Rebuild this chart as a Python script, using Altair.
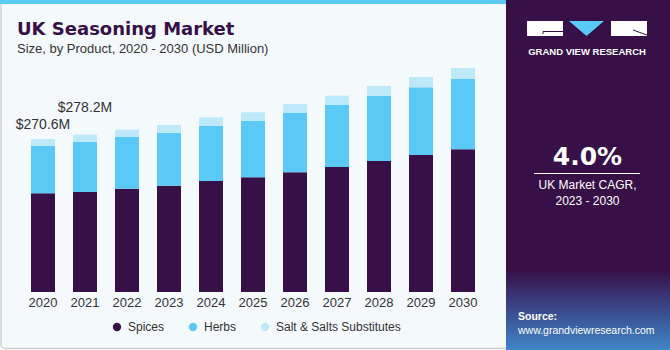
import altair as alt
import pandas as pd

years = [str(y) for y in range(2020, 2031)]
spices = [174.6, 176.9, 182.7, 188.0, 196.3, 202.9, 211.7, 221.1, 231.7, 242.3, 252.4]
herbs = [83.7, 89.0, 91.4, 93.7, 97.8, 99.6, 104.9, 109.7, 115.5, 119.7, 124.3]
salt = [12.3, 12.3, 12.9, 13.6, 14.9, 15.4, 15.9, 16.4, 17.2, 18.2, 19.5]
segments = ["Spices", "Herbs", "Salt & Salts Substitutes"]
colors = ["#371047", "#5BC9F5", "#BDE9FA"]
ann_years = ["2020", "2021"]
ann_labels = ["$270.6M", "$278.2M"]

DARK = "#371047"
FONT = "Liberation Sans"

rows = []
for i, y in enumerate(years):
    for j, (seg, vals) in enumerate(zip(segments, [spices, herbs, salt])):
        rows.append({"year": y, "segment": seg, "value": vals[i], "order": j})
df = pd.DataFrame(rows)

totals = {y: round(spices[i] + herbs[i] + salt[i], 1) for i, y in enumerate(years)}
ann = pd.DataFrame({"year": ann_years, "label": ann_labels,
                    "total": [totals[y] for y in ann_years]})

one = alt.Data(values=[{"a": 1}])

xscale = alt.Scale(domain=years, range=[22, 484], paddingInner=0.4286, paddingOuter=0.2143)
yscale = alt.Scale(domain=[0, 516.4], nice=False, zero=True)

# backgrounds
left_bg = alt.Chart(one).mark_rect(fill="#F4F9FC", stroke="#CFCFCF", strokeWidth=1.5,
                                   cornerRadius=4).encode(
    x=alt.value(1), x2=alt.value(520), y=alt.value(1), y2=alt.value(348.5))
top_stripe = alt.Chart(one).mark_rect(fill="#5BC9F5").encode(
    x=alt.value(0), x2=alt.value(506), y=alt.value(0), y2=alt.value(4))
right_bg = alt.Chart(one).mark_rect(fill=DARK).encode(
    x=alt.value(506), x2=alt.value(670), y=alt.value(0), y2=alt.value(350))
grad = alt.Chart(one).mark_rect(fill=alt.Gradient(
    gradient="linear",
    stops=[alt.GradientStop(color=DARK, offset=0),
           alt.GradientStop(color="#3A3878", offset=0.35),
           alt.GradientStop(color="#3F86C8", offset=1)],
    x1=0, x2=0, y1=0, y2=1)).encode(
    x=alt.value(506), x2=alt.value(670), y=alt.value(270), y2=alt.value(350))

bars = alt.Chart(df).mark_bar().encode(
    x=alt.X("year:N", scale=xscale, sort=years,
            axis=alt.Axis(title=None, domain=False, ticks=False, labelPadding=4,
                          labelFontSize=13, labelColor="#333333", labelFont=FONT,
                          labelAngle=0, zindex=1)),
    y=alt.Y("value:Q", stack="zero", scale=yscale, axis=None),
    color=alt.Color("segment:N", scale=alt.Scale(domain=segments, range=colors),
                    legend=alt.Legend(title=None, orient="none", legendX=111, legendY=321,
                                      direction="horizontal", symbolType="circle",
                                      symbolSize=70, symbolStrokeWidth=0,
                                      labelFontSize=12, labelFont=FONT,
                                      labelColor="#333333", columnPadding=22,
                                      labelOffset=5)),
    order=alt.Order("order:Q", sort="ascending"),
)

ann_a = alt.Chart(ann[ann.year == "2020"]).mark_text(
    fontSize=14, font=FONT, color="#333333", baseline="alphabetic", align="center", dy=-10
).encode(x=alt.X("year:N", scale=xscale), y=alt.Y("total:Q", scale=yscale), text="label:N")
ann_b = alt.Chart(ann[ann.year == "2021"]).mark_text(
    fontSize=14, font=FONT, color="#333333", baseline="alphabetic", align="center", dy=-23
).encode(x=alt.X("year:N", scale=xscale), y=alt.Y("total:Q", scale=yscale), text="label:N")

title = alt.Chart(one).mark_text(
    text="UK Seasoning Market", font="DejaVu Sans", fontWeight="bold", fontSize=18,
    color=DARK, align="left", baseline="alphabetic").encode(x=alt.value(17), y=alt.value(34.5))
subtitle = alt.Chart(one).mark_text(
    text="Size, by Product, 2020 - 2030 (USD Million)", font=FONT, fontSize=13,
    color="#333333", align="left", baseline="alphabetic").encode(x=alt.value(17), y=alt.value(52.5))

# logo
g_block = alt.Chart(one).mark_rect(fill="white").encode(
    x=alt.value(527), x2=alt.value(563), y=alt.value(21), y2=alt.value(36))
r_block = alt.Chart(one).mark_rect(fill="white").encode(
    x=alt.value(611), x2=alt.value(647), y=alt.value(21), y2=alt.value(36))
tri = alt.Chart(one).mark_point(
    shape="M-1,-0.43L1,-0.43L0,0.43Z", filled=True, fill="#5BC9F5", opacity=1,
    size=1225, strokeWidth=0).encode(x=alt.value(586.5), y=alt.value(28.5))
g_line1 = alt.Chart(one).mark_rule(color=DARK, strokeWidth=1).encode(
    x=alt.value(543), x2=alt.value(563), y=alt.value(31.5), y2=alt.value(31.5))
g_line2 = alt.Chart(one).mark_rule(color=DARK, strokeWidth=1).encode(
    x=alt.value(543), x2=alt.value(543), y=alt.value(31.5), y2=alt.value(34))
r_line = alt.Chart(one).mark_rule(color=DARK, strokeWidth=1).encode(
    x=alt.value(633), x2=alt.value(647), y=alt.value(30), y2=alt.value(35))
gvr = alt.Chart(one).mark_text(
    text="GRAND VIEW RESEARCH", font=FONT, fontWeight="bold", fontSize=9.5, color="white",
    align="center", baseline="alphabetic").encode(x=alt.value(587), y=alt.value(54.5))

cagr = alt.Chart(one).mark_text(
    text="4.0%", font="DejaVu Sans", fontWeight="bold", fontSize=25, color="white",
    align="center", baseline="alphabetic").encode(x=alt.value(587.5), y=alt.value(165))
cagr_line = alt.Chart(one).mark_rule(color="white", strokeWidth=1).encode(
    x=alt.value(534), x2=alt.value(640), y=alt.value(173.5), y2=alt.value(173.5))
cagr_t1 = alt.Chart(one).mark_text(
    text="UK Market CAGR,", font=FONT, fontSize=12, color="white",
    align="center", baseline="alphabetic").encode(x=alt.value(587.5), y=alt.value(189))
cagr_t2 = alt.Chart(one).mark_text(
    text="2023 - 2030", font=FONT, fontSize=12, color="white",
    align="center", baseline="alphabetic").encode(x=alt.value(587.5), y=alt.value(204.5))
src1 = alt.Chart(one).mark_text(
    text="Source:", font=FONT, fontWeight="bold", fontSize=10.5, color="white",
    align="left", baseline="alphabetic").encode(x=alt.value(518), y=alt.value(319.5))
src2 = alt.Chart(one).mark_text(
    text="www.grandviewresearch.com", font=FONT, fontSize=10.5, color="white",
    align="left", baseline="alphabetic").encode(x=alt.value(518), y=alt.value(333.5))

chart = alt.layer(
    left_bg, top_stripe, right_bg, grad, bars, ann_a, ann_b, title, subtitle,
    g_block, r_block, tri, g_line1, g_line2, r_line, gvr,
    cagr, cagr_line, cagr_t1, cagr_t2, src1, src2
).properties(
    width=670, height=292, autosize="none",
    padding={"left": 0, "top": 0, "right": 0, "bottom": 58},
    background="white",
).configure_view(stroke=None)

chart.save("out.html", embed_options={"renderer": "svg", "actions": False})
